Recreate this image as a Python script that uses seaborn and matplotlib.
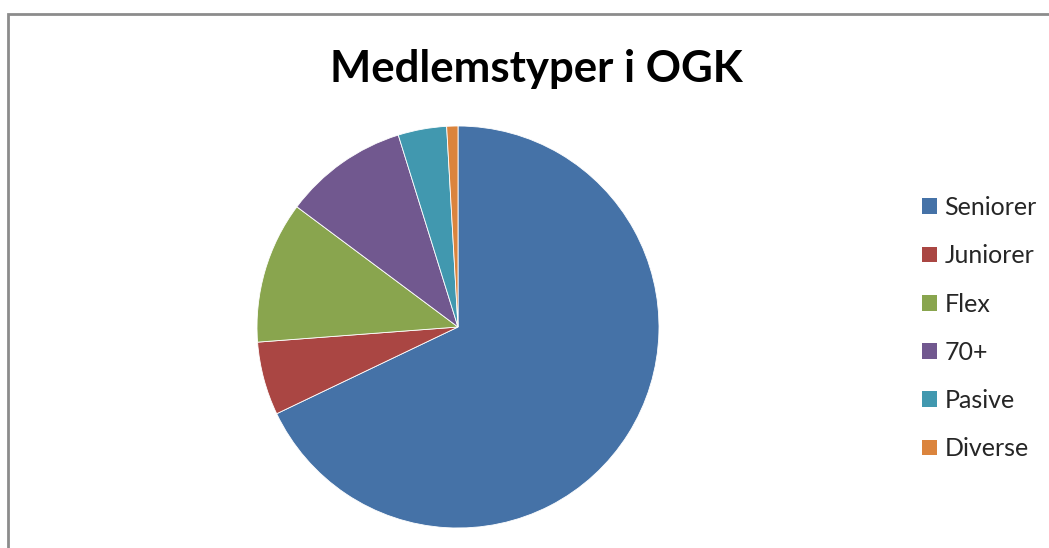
import matplotlib
matplotlib.use("Agg")
import matplotlib.pyplot as plt
import matplotlib.patches as mpatches
import seaborn as sns

# Andel medlemmer per type (prosent, lest av figuren)
categories = ["Seniorer", "Juniorer", "Flex", "70+", "Pasive", "Diverse"]
shares = [67.9, 5.9, 11.4, 10.0, 3.9, 0.9]
colors = ["#4572A7", "#AA4643", "#89A54E", "#71588F", "#4198AF", "#DB843D"]
title = "Medlemstyper i OGK"

sns.set_theme(style="white")
plt.rcParams["font.family"] = ["Lato", "DejaVu Sans"]
palette = sns.color_palette(colors)

W, H = 1049, 548
fig = plt.figure(figsize=(W / 100, H / 100), dpi=100)
fig.patch.set_facecolor("white")

# chart area border (left + top visible)
border = mpatches.Rectangle((8 / W, -0.1), 1.2, (H - 14) / H + 0.1,
                            transform=fig.transFigure, fill=False,
                            edgecolor="#8c8c8c", linewidth=2)
fig.add_artist(border)

cx, cy, r = 458, 327, 201
ax = fig.add_axes([(cx - r) / W, (H - cy - r) / H, 2 * r / W, 2 * r / H])
wedges, _ = ax.pie(shares, colors=palette, startangle=90, counterclock=False,
                   radius=1, wedgeprops=dict(edgecolor="white", linewidth=0.6))
ax.set_xlim(-1, 1)
ax.set_ylim(-1, 1)
ax.set_aspect("equal")
ax.axis("off")

fig.text(536 / W, 1 - 69 / H, title, ha="center", va="center",
         fontsize=31.5, fontweight="bold", color="black")

handles = [mpatches.Patch(facecolor=c, edgecolor="none") for c in palette]
fig.legend(handles, categories, loc="upper left",
           bbox_to_anchor=(922 / W, 1 - 196 / H), frameon=False,
           borderpad=0, borderaxespad=0,
           fontsize=18, handlelength=0.6, handleheight=0.6,
           handletextpad=0.3, labelspacing=1.01)

fig.savefig("out.png", dpi=100, facecolor="white")
